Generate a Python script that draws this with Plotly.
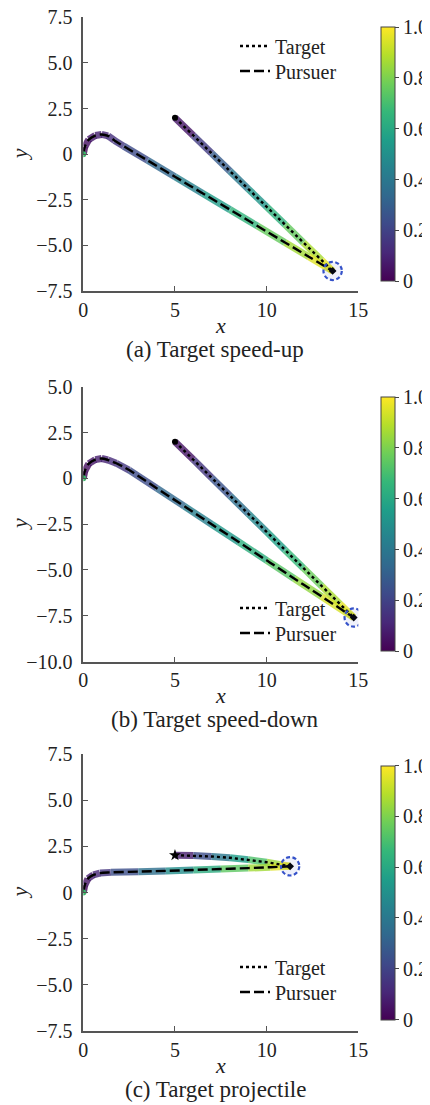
import plotly.graph_objects as go
from plotly.colors import sample_colorscale
import numpy as np

# page body has an 8px margin: plotly figure is offset by 8px from the window corner
OFF = 8
W, H = 422, 1097
ML, MR, MT, MB = 30, 30, 5, 5
FONT = '"Liberation Serif", "Times New Roman", Times, serif'

# ---------------- data ----------------
# (a) Target speed-up
a_pursuer_x = [0, 0.08, 0.3, 0.65, 1.0, 1.35, 1.7, 2.2, 3.5, 5.0, 6.5, 8.0, 9.5, 11.0, 12.3, 13.6]
a_pursuer_y = [0, 0.40, 0.8, 1.02, 1.08, 1.0, 0.75, 0.44, -0.34, -1.24, -2.14, -3.04, -3.94, -4.84, -5.62, -6.4]
a_target_x = [5.0, 6.0, 7.0, 8.0, 9.0, 10.0, 11.0, 12.0, 13.0, 13.6]
a_target_y = [2.0, 1.02, 0.05, -0.93, -1.91, -2.88, -3.86, -4.84, -5.81, -6.4]

# (b) Target speed-down
b_pursuer_x = [0, 0.08, 0.3, 0.65, 1.0, 1.35, 1.8, 2.5, 4.0, 5.5, 7.0, 8.5, 10.0, 11.5, 13.0, 14.75]
b_pursuer_y = [0, 0.40, 0.8, 1.02, 1.08, 1.0, 0.82, 0.45, -0.54, -1.52, -2.51, -3.49, -4.48, -5.47, -6.45, -7.6]
b_target_x = [5.0, 6.0, 7.0, 8.0, 9.0, 10.0, 11.0, 12.0, 13.0, 14.0, 14.75]
b_target_y = [2.0, 1.02, 0.03, -0.95, -1.94, -2.92, -3.91, -4.89, -5.88, -6.86, -7.6]

# (c) Target projectile
c_pursuer_x = [0, 0.08, 0.25, 0.55, 0.9, 1.5, 3.0, 4.5, 6.0, 7.5, 9.0, 10.2, 11.28]
c_pursuer_y = [0, 0.40, 0.75, 0.95, 1.05, 1.09, 1.13, 1.17, 1.22, 1.27, 1.32, 1.37, 1.42]
c_target_x = [5.0, 6.0, 7.0, 8.0, 9.0, 10.0, 10.7, 11.28]
c_target_y = [2.02, 2.0, 1.95, 1.88, 1.78, 1.64, 1.52, 1.42]

x_ticks = [0, 5, 10, 15]
x_ticktext = ["0", "5", "10", "15"]
ya_ticks = [-7.5, -5.0, -2.5, 0, 2.5, 5.0, 7.5]
ya_ticktext = ["\u22127.5", "\u22125.0", "\u22122.5", "0", "2.5", "5.0", "7.5"]
yb_ticks = [-10.0, -7.5, -5.0, -2.5, 0, 2.5, 5.0]
yb_ticktext = ["\u221210.0", "\u22127.5", "\u22125.0", "\u22122.5", "0", "2.5", "5.0"]
cb_ticks = [0, 0.2, 0.4, 0.6, 0.8, 1.0]
cb_ticktext = ["0", "0.2", "0.4", "0.6", "0.8", "1.0"]
captions = ["(a) Target speed-up", "(b) Target speed-down", "(c) Target projectile"]
legend_names = ["Target", "Pursuer"]

# ---------------- layout geometry (window pixels) ----------------
px_left, px_right = 83.3, 358.3
panels = [
    dict(top=17.3, bot=291.0, yr=[-7.5, 7.5], yt=ya_ticks, ytt=ya_ticktext,
         px=a_pursuer_x, py=a_pursuer_y, tx=a_target_x, ty=a_target_y, leg_y=(46, 71), star=False),
    dict(top=386.7, bot=661.5, yr=[-10.0, 5.0], yt=yb_ticks, ytt=yb_ticktext,
         px=b_pursuer_x, py=b_pursuer_y, tx=b_target_x, ty=b_target_y, leg_y=(608, 633), star=False),
    dict(top=754.0, bot=1031.0, yr=[-7.5, 7.5], yt=ya_ticks, ytt=ya_ticktext,
         px=c_pursuer_x, py=c_pursuer_y, tx=c_target_x, ty=c_target_y, leg_y=(967, 992), star=True),
]

def py2paper(p):
    return 1 - (p - OFF - MT) / (H - MT - MB)

def px2paper(p):
    return (p - OFF - ML) / (W - ML - MR)

fig = go.Figure()
layout = dict(width=W, height=H, margin=dict(l=ML, r=MR, t=MT, b=MB, autoexpand=False),
              paper_bgcolor="white", plot_bgcolor="white",
              font=dict(family=FONT, size=19, color="#222"))
annotations = []
shapes = []

def arc_param(xs, ys):
    xs = np.asarray(xs, float); ys = np.asarray(ys, float)
    d = np.concatenate([[0], np.cumsum(np.hypot(np.diff(xs), np.diff(ys)))])
    return d / d[-1]

for i, p in enumerate(panels):
    k = "" if i == 0 else str(i + 1)
    xa, ya = "x" + k, "y" + k
    leg_t = "legend" + ("" if i == 0 else str(2 * i + 1))
    leg_p = "legend" + str(2 * i + 2)

    # colored (time) trajectories
    for xs, ys in [(p["tx"], p["ty"]), (p["px"], p["py"])]:
        s = arc_param(xs, ys)
        for j in range(len(xs) - 1):
            c = sample_colorscale("Viridis", [(s[j] + s[j + 1]) / 2])[0]
            fig.add_trace(go.Scatter(x=[xs[j], xs[j + 1]], y=[ys[j], ys[j + 1]], mode="lines",
                                     line=dict(color=c, width=7), opacity=0.8,
                                     showlegend=False, hoverinfo="skip", xaxis=xa, yaxis=ya))
    # black overlays (legend entries)
    fig.add_trace(go.Scatter(x=p["tx"], y=p["ty"], mode="lines", name=legend_names[0],
                             line=dict(color="black", width=2.4, dash="3px,3px"),
                             legend=leg_t, xaxis=xa, yaxis=ya))
    fig.add_trace(go.Scatter(x=p["px"], y=p["py"], mode="lines", name=legend_names[1],
                             line=dict(color="black", width=2.4, dash="10px,4px", shape="spline"),
                             legend=leg_p, xaxis=xa, yaxis=ya))
    # start markers
    fig.add_trace(go.Scatter(x=[p["px"][0]], y=[p["py"][0]], mode="markers",
                             marker=dict(color="#3cb56a", size=6), showlegend=False,
                             xaxis=xa, yaxis=ya))
    fig.add_trace(go.Scatter(x=[p["tx"][0]], y=[p["ty"][0]], mode="markers",
                             marker=dict(color="black", size=9 if p["star"] else 6,
                                         symbol="star" if p["star"] else "circle"),
                             showlegend=False, xaxis=xa, yaxis=ya))
    fig.add_trace(go.Scatter(x=[p["tx"][-1]], y=[p["ty"][-1]], mode="markers",
                             marker=dict(color="black", size=6, symbol="diamond"),
                             showlegend=False, xaxis=xa, yaxis=ya))
    # capture circle
    r = 0.5
    ex, ey = p["tx"][-1], p["ty"][-1]
    shapes.append(dict(type="circle", xref=xa, yref=ya, x0=ex - r, x1=ex + r, y0=ey - r, y1=ey + r,
                       line=dict(color="#3552c9", width=2.2, dash="4px,2.5px"),
                       fillcolor="rgba(53,82,201,0.08)"))
    # colorbar carrier
    ymid = py2paper((p["top"] + p["bot"]) / 2)
    fig.add_trace(go.Scatter(x=[None], y=[None], mode="markers", showlegend=False,
                             marker=dict(color=[0.5], cmin=0, cmax=1, colorscale="Viridis", showscale=True,
                                         colorbar=dict(x=px2paper(380.7), xanchor="left", xpad=0, ypad=0,
                                                       y=ymid, yanchor="middle",
                                                       thickness=14, thicknessmode="pixels",
                                                       len=254, lenmode="pixels",
                                                       outlinewidth=1, outlinecolor="#444",
                                                       ticks="outside", ticklen=4, tickcolor="#444",
                                                       tickvals=cb_ticks, ticktext=cb_ticktext,
                                                       ticklabeloverflow="allow",
                                                       tickfont=dict(family=FONT, size=20, color="#222"))),
                             xaxis=xa, yaxis=ya))

    dom_y = [py2paper(p["bot"]), py2paper(p["top"])]
    layout["xaxis" + k] = dict(domain=[px2paper(px_left), px2paper(px_right)], range=[0, 15],
                               anchor=ya, showline=True, linecolor="#555", linewidth=1.5,
                               ticks="inside", ticklen=5, tickcolor="#555", tickwidth=1.2,
                               tickvals=x_ticks, ticktext=x_ticktext, showgrid=False, zeroline=False,
                               automargin=False, ticklabeloverflow="allow",
                               tickfont=dict(family=FONT, size=20, color="#222"))
    layout["yaxis" + k] = dict(domain=dom_y, range=p["yr"], anchor=xa, showline=True, linecolor="#555",
                               linewidth=1.5, ticks="inside", ticklen=5, tickcolor="#555", tickwidth=1.2,
                               tickvals=p["yt"], ticktext=p["ytt"], showgrid=False, zeroline=False,
                               automargin=False, ticklabeloverflow="allow", ticklabelstandoff=5,
                               tickfont=dict(family=FONT, size=20, color="#222"))
    for lg, yy in [(leg_t, p["leg_y"][0]), (leg_p, p["leg_y"][1])]:
        layout[lg] = dict(x=px2paper(235), xanchor="left", y=py2paper(yy), yanchor="middle",
                          bgcolor="rgba(255,255,255,0)", font=dict(family=FONT, size=20, color="#222"),
                          itemwidth=30, borderwidth=0)

    # axis labels and caption
    annotations.append(dict(text="<i>x</i>", x=px2paper(220.5), y=py2paper(p["bot"] + 34),
                            xref="paper", yref="paper", showarrow=False,
                            xanchor="center", yanchor="middle",
                            font=dict(family=FONT, size=22, color="#222")))
    annotations.append(dict(text="<i>y</i>", x=px2paper(19), y=py2paper((p["top"] + p["bot"]) / 2),
                            xref="paper", yref="paper", showarrow=False, textangle=-90,
                            xanchor="center", yanchor="middle",
                            font=dict(family=FONT, size=22, color="#222")))
    annotations.append(dict(text=captions[i], x=px2paper(215), y=py2paper(p["bot"] + 58),
                            xref="paper", yref="paper", showarrow=False,
                            xanchor="center", yanchor="middle",
                            font=dict(family=FONT, size=23, color="#222")))

layout["annotations"] = annotations
layout["shapes"] = shapes
fig.update_layout(**layout)
fig.write_html("out.html")
